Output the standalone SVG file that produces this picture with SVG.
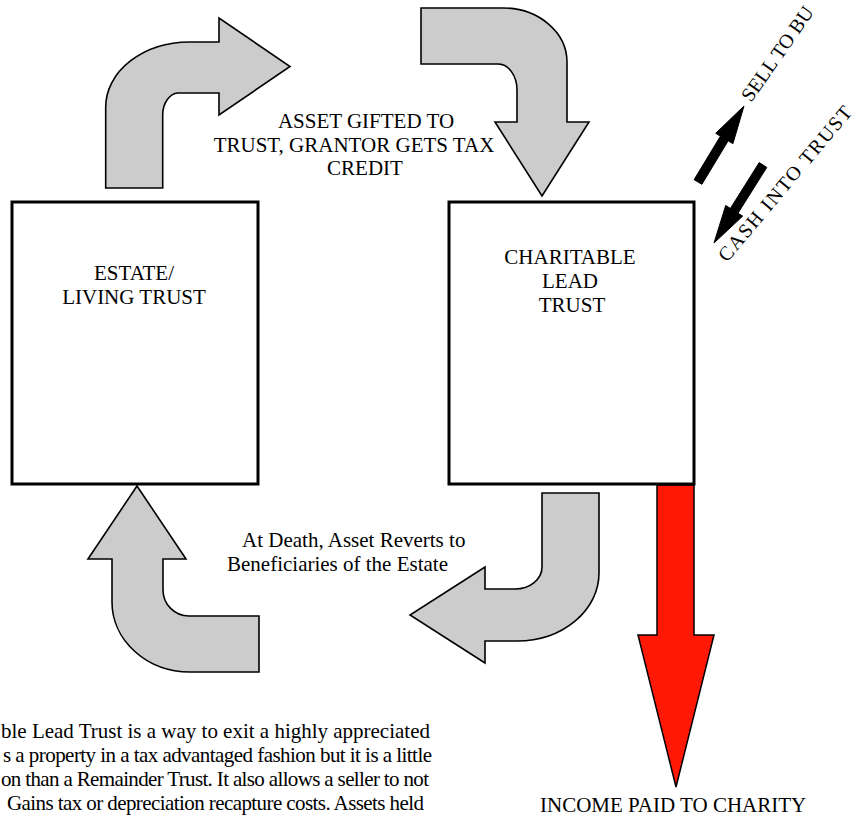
<svg xmlns="http://www.w3.org/2000/svg" width="859" height="817" viewBox="0 0 859 817">
<style>
  .box { fill: #ffffff; stroke: #000000; stroke-width: 3; }
  .garrow { fill: #cccccc; stroke: #000000; stroke-width: 1.6; stroke-linejoin: miter; }
  .rarrow { fill: #ff1805; stroke: #000000; stroke-width: 1.5; }
  .barrow { fill: #000000; stroke: #000000; stroke-width: 1; stroke-linejoin: round; }
  text { font-family: "Liberation Serif", "Times New Roman", serif; font-size: 21px; fill: #000000; }
  .mid { text-anchor: middle; }
  .rot { font-size: 20px; }
</style>
<rect width="859" height="817" fill="#ffffff"/>

<g id="connectors">
  <g id="arrow-gift">
    <path class="garrow" d="M105.7,188 L105.7,107 A84,65 0 0 1 190,42 L219,42 L219,18 L290,66.5 L219,115 L219,93 L178,93 A16,22 0 0 0 162.7,115 L162.7,188 Z"/>
    <path class="garrow" d="M421,8 L503,8 A64,54 0 0 1 567,62 L567,122 L589,122 L542,196 L495,122 L517,122 L517,90 A19,26 0 0 0 498,64 L421,64 Z"/>
  </g>
  <g id="arrow-revert">
    <path class="garrow" d="M542,493 L599,493 L599,573 A82,68 0 0 1 517,641 L485,641 L485,663 L410,615 L485,567 L485,589 L515,589 A27,22 0 0 0 542,567 Z"/>
    <path class="garrow" d="M137,486 L186,559 L163,559 L163,590 A26,26 0 0 0 189,616 L259,616 L259,672 L190,672 A78,70 0 0 1 112,602 L112,559 L88,559 Z"/>
  </g>
  <path id="arrow-income" class="rarrow" d="M657,485 L694,485 L694,635 L714,635 L676,787 L638,635 L657,635 Z"/>
  <polygon id="arrow-sell" class="barrow" points="694.1,179.7 720.4,136.2 715.7,133.3 744,106 732.9,143.7 728.2,140.8 701.9,184.3"/>
  <polygon id="arrow-cash" class="barrow" points="759.2,162.6 730.4,208.4 725.7,205.5 714,243 742.7,216.1 738,213.2 766.8,167.4"/>
</g>

<g id="node-estate">
  <rect class="box" x="12" y="202" width="246" height="282"/>
  <text class="mid" x="134" y="280">ESTATE/</text>
  <text class="mid" x="134" y="304">LIVING TRUST</text>
</g>

<g id="node-clt">
  <rect class="box" x="449" y="202" width="245" height="282"/>
  <text class="mid" x="570" y="264">CHARITABLE</text>
  <text class="mid" x="570" y="288">LEAD</text>
  <text class="mid" x="572" y="312">TRUST</text>
</g>

<g id="labels">
  <text class="mid" x="366" y="128">ASSET GIFTED TO</text>
  <text class="mid" x="354" y="152">TRUST, GRANTOR GETS TAX</text>
  <text class="mid" x="365" y="175">CREDIT</text>
  <text x="242" y="547">At Death, Asset Reverts to</text>
  <text x="227" y="571">Beneficiaries of the Estate</text>
  <text x="540" y="812">INCOME PAID TO CHARITY</text>
  <text class="rot" transform="translate(751,103) rotate(-55)">SELL TO BU</text>
  <text class="rot" transform="translate(727,263) rotate(-50)" textLength="196" lengthAdjust="spacing">CASH INTO TRUST</text>
</g>

<g id="description">
  <text x="1" y="738" textLength="429" lengthAdjust="spacing">ble Lead Trust is a way to exit a highly appreciated</text>
  <text x="3" y="762" textLength="429" lengthAdjust="spacing">s a property in a tax advantaged fashion but it is a little</text>
  <text x="1" y="786" textLength="428" lengthAdjust="spacing">on than a Remainder Trust. It also allows a seller to not</text>
  <text x="7" y="810" textLength="417" lengthAdjust="spacing">Gains tax or depreciation recapture costs. Assets held</text>
</g>
</svg>
